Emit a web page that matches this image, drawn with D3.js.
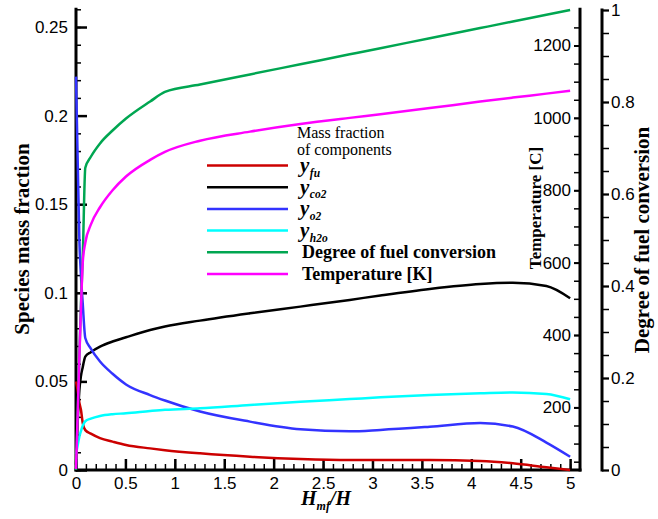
<!DOCTYPE html>
<html><head><meta charset="utf-8">
<script src="https://cdn.jsdelivr.net/npm/d3@7"></script>
<style>
html,body{margin:0;padding:0;background:#fff;}
svg{display:block;}
.tick text{font-family:"Liberation Sans",Arial,sans-serif;font-size:17px;fill:#000;}
</style></head>
<body><svg id="chart" width="658" height="519"></svg>
<script>
// ---- data ----
const hRatio = [0, 0.017, 0.034, 0.05, 0.068, 0.094, 0.15, 0.243, 0.37, 0.506, 0.75, 0.9, 1.255, 1.76, 2.27, 2.77, 3.08, 3.58, 4.09, 4.42, 4.76, 5.0];
const yFu  = [0.05, 0.045, 0.038, 0.034, 0.0265, 0.0225, 0.0205, 0.018, 0.016, 0.0141, 0.0122, 0.0112, 0.0094, 0.0075, 0.0062, 0.0056, 0.0056, 0.0056, 0.0051, 0.0038, 0.0015, 0.0];
const yCo2 = [0.003, 0.027, 0.045, 0.053, 0.058, 0.064, 0.0665, 0.0696, 0.0725, 0.0749, 0.079, 0.081, 0.0843, 0.0884, 0.0922, 0.096, 0.0985, 0.1022, 0.105, 0.1057, 0.1038, 0.0969];
const yO2  = [0.222, 0.175, 0.13, 0.11, 0.094, 0.0745, 0.0685, 0.0612, 0.0543, 0.0483, 0.0423, 0.0392, 0.033, 0.0273, 0.023, 0.0218, 0.0226, 0.0244, 0.0265, 0.0245, 0.0155, 0.0075];
const yH2o = [0.009, 0.014, 0.0188, 0.022, 0.025, 0.0275, 0.029, 0.0305, 0.0315, 0.032, 0.0333, 0.034, 0.0348, 0.0367, 0.0385, 0.040, 0.041, 0.0423, 0.0433, 0.0438, 0.0429, 0.0399];
const fuelConversion = [0.0, 0.12, 0.25, 0.36, 0.46, 0.657, 0.681, 0.71, 0.738, 0.764, 0.801, 0.822, 0.838, 0.86, 0.882, 0.9036, 0.917, 0.9386, 0.9607, 0.975, 0.9896, 1.0];
const temperatureC = [30, 180, 340, 470, 600, 655, 705, 753, 800, 838, 884, 906, 937, 962, 983, 1000, 1010, 1027, 1045, 1056, 1067, 1075];

const xTicks = [0, 0.5, 1, 1.5, 2, 2.5, 3, 3.5, 4, 4.5, 5];
const yTicks = [0, 0.05, 0.1, 0.15, 0.2, 0.25];
const tTicks = [200, 400, 600, 800, 1000, 1200];
const dTicks = [0, 0.2, 0.4, 0.6, 0.8, 1];

const legendLabels = [
  {main: "y", sub: "fu"}, {main: "y", sub: "co2"}, {main: "y", sub: "o2"}, {main: "y", sub: "h2o"},
  {text: "Degree of fuel conversion"}, {text: "Temperature [K]"}
];
const colors = ["#cc0000", "#000000", "#3333ff", "#00ffff", "#00a651", "#ff00ff"];

// ---- scales ----
const svg = d3.select("#chart");
const x = d3.scaleLinear().domain([0, 5.1]).range([76, 580]);
const yL = d3.scaleLinear().domain([0, 0.26]).range([470, 9.3]);
const yT = d3.scaleLinear().domain([27, 1300]).range([470, 9.3]);
const yD = d3.scaleLinear().domain([0, 1]).range([470, 10]);

const fmt = d => String(d);
const minor = (a, b, s) => d3.range(Math.round((b - a) / s) + 1).map(i => +(a + i * s).toFixed(4));

function styleAxis(g, w) {
  g.select(".domain").remove();
  g.selectAll(".tick line").attr("stroke", "#000").attr("stroke-width", w);
}

// left axis
const gl = svg.append("g").attr("transform", "translate(76,0)");
gl.append("g").call(d3.axisRight(yL).tickValues(minor(0, 0.26, 0.01)).tickSize(5).tickFormat("")).call(styleAxis, 1.5);
gl.append("g").call(d3.axisRight(yL).tickValues(yTicks).tickSize(11).tickFormat("")).call(styleAxis, 2.5);
gl.append("g").call(d3.axisLeft(yL).tickValues(yTicks).tickSize(0).tickPadding(8).tickFormat(fmt)).call(styleAxis, 0);

// bottom axis
const gb = svg.append("g").attr("transform", "translate(0,470)");
gb.append("g").call(d3.axisTop(x).tickValues(minor(0, 5, 0.1)).tickSize(6).tickFormat("")).call(styleAxis, 1.5);
gb.append("g").call(d3.axisTop(x).tickValues(xTicks).tickSize(11).tickFormat("")).call(styleAxis, 2.5);
gb.append("g").call(d3.axisBottom(x).tickValues(xTicks).tickSize(0).tickPadding(7).tickFormat(fmt)).call(styleAxis, 0);

// temperature axis
const gt = svg.append("g").attr("transform", "translate(580,0)");
gt.append("g").call(d3.axisLeft(yT).tickValues(minor(50, 1250, 50)).tickSize(6).tickFormat("")).call(styleAxis, 1.5);
gt.append("g").call(d3.axisLeft(yT).tickValues(tTicks).tickSize(6).tickPadding(3).tickFormat(fmt)).call(styleAxis, 2);

// degree axis
const gd = svg.append("g").attr("transform", "translate(602,0)");
gd.append("g").call(d3.axisRight(yD).tickValues(minor(0, 1, 0.05)).tickSize(7).tickFormat("")).call(styleAxis, 1.5);
gd.append("g").call(d3.axisRight(yD).tickValues(dTicks).tickSize(7).tickPadding(2).tickFormat(fmt)).call(styleAxis, 2);

// axis lines
const axisLine = (x1, y1, x2, y2) => svg.append("line").attr("x1", x1).attr("y1", y1).attr("x2", x2).attr("y2", y2)
  .attr("stroke", "#000").attr("stroke-width", 3).attr("stroke-linecap", "square");
axisLine(76, 9.3, 76, 470);
axisLine(76, 470, 580, 470);
axisLine(580, 9.3, 580, 470);
axisLine(602, 10, 602, 470);

// ---- lines ----
const series = [
  {vals: yFu, s: yL}, {vals: yCo2, s: yL}, {vals: yO2, s: yL}, {vals: yH2o, s: yL},
  {vals: fuelConversion, s: yD}, {vals: temperatureC, s: yT}
];
const plot = svg.append("g");
series.forEach((sr, i) => {
  const line = d3.line().x((d, j) => x(hRatio[j])).y(d => sr.s(d)).curve(d3.curveMonotoneX);
  plot.append("path").datum(sr.vals).attr("d", line).attr("fill", "none")
    .attr("stroke", colors[i]).attr("stroke-width", 2.5).attr("stroke-linejoin", "round");
});

// ---- legend ----
const serif = '"Liberation Serif","Times New Roman",serif';
const lg = svg.append("g");
lg.append("text").attr("x", 297).attr("y", 137.5).attr("font-family", serif).attr("font-size", 16).text("Mass fraction");
lg.append("text").attr("x", 297).attr("y", 155).attr("font-family", serif).attr("font-size", 16).text("of components");
const ly = d3.scaleLinear().domain([0, 5]).range([165.5, 274]);
legendLabels.forEach((L, i) => {
  const yy = ly(i);
  lg.append("line").attr("x1", 207).attr("x2", 288).attr("y1", yy).attr("y2", yy).attr("stroke", colors[i]).attr("stroke-width", 2.5);
  if (L.main) {
    const t = lg.append("text").attr("x", 300).attr("y", yy + 6.5).attr("font-family", serif)
      .attr("font-style", "italic").attr("font-weight", "bold").attr("font-size", 21).text(L.main);
    t.append("tspan").attr("dy", 4.5).attr("dx", 0.5).attr("font-size", 11.5).text(L.sub);
  } else {
    lg.append("text").attr("x", 302).attr("y", yy + 6).attr("font-family", serif)
      .attr("font-weight", "bold").attr("font-size", 18).text(L.text);
  }
});

// ---- axis titles ----
svg.append("text").attr("transform", "translate(29,239) rotate(-90)").attr("text-anchor", "middle")
  .attr("font-family", serif).attr("font-weight", "bold").attr("font-size", 21).text("Species mass fraction");
svg.append("text").attr("transform", "translate(541,208) rotate(-90)").attr("text-anchor", "middle")
  .attr("font-family", serif).attr("font-weight", "bold").attr("font-size", 17).text("Temperature [C]");
svg.append("text").attr("transform", "translate(649,240) rotate(-90)").attr("text-anchor", "middle")
  .attr("font-family", serif).attr("font-weight", "bold").attr("font-size", 21).text("Degree of fuel conversion");
const xt = svg.append("text").attr("x", 301).attr("y", 505).attr("font-family", serif)
  .attr("font-style", "italic").attr("font-weight", "bold").attr("font-size", 20);
xt.append("tspan").text("H");
xt.append("tspan").attr("font-size", 12).attr("dy", 5).text("mf");
xt.append("tspan").attr("dy", -5).text("/H");
</script></body></html>
